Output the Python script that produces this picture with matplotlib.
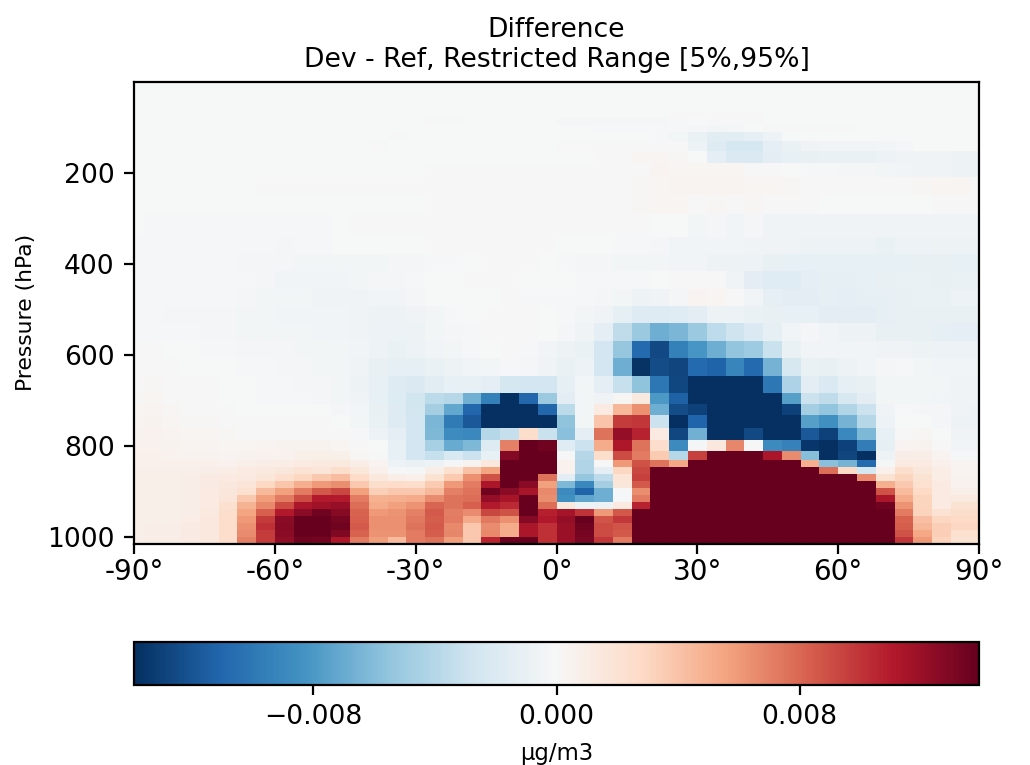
import numpy as np
import matplotlib
matplotlib.use("Agg")
import matplotlib.pyplot as plt

# latitude and pressure cell edges
lat_edges = [-90, -88, -84, -80, -76, -72, -68, -64, -60, -56, -52, -48, -44, -40, -36, -32,
             -28, -24, -20, -16, -12, -8, -4, 0, 4, 8, 12, 16, 20, 24, 28,
             32, 36, 40, 44, 48, 52, 56, 60, 64, 68, 72, 76, 80, 84, 88, 90]
p_edges = [0.01, 5, 14, 26, 40, 54, 66, 78, 95, 109, 130, 152, 177, 209, 248, 290, 340,
           378, 416, 454, 491, 530, 568, 606, 645, 682, 708, 732, 759, 785, 810, 830,
           845.2, 860.5, 875.8, 891, 906.3, 921.6, 936.9, 952.2, 967.5, 982.8, 998, 1013.25]

# zonal mean difference, in 1e-4 ug/m3, one list per pressure level (top to bottom)
row_00 = [-1] * 46
row_01 = [-1] * 46
row_02 = [-1] * 46
row_03 = [-1] * 46
row_04 = [-1] * 46
row_05 = [-1] * 46
row_06 = [-1, -1, -1, -1, -1, -1, -1, -1, -1, -1, -1, -1, -1, -1, -1, -1,
          -1, -1, -1, -1, -1, -1, -1, -1, -1, -1, -1, -1, -1, 1, 1,
          1, 1, 1, -1, -1, -1, -1, -1, -1, -1, -1, -1, -1, -1, -1]
row_07 = [-1, -1, -1, -1, -1, -1, -1, -1, -1, -1, -1, -1, -1, -1, -1, -1,
          1, 1, -1, -1, -1, -1, -1, -3, -3, -3, -3, -3, -3, -2, -1,
          0, 1, 1, -1, -1, -1, -1, -1, -1, -1, -1, -1, -1, -1, -1]
row_08 = [-1, -1, -1, -1, -1, -1, -1, -1, -1, -1, -1, -1, -1, -1, -1, -1,
          -1, -1, -1, -1, -1, -1, -1, -1, -1, -2, -2, -2, -2, -2, -3,
          -4, -3, -1, 1, 1, 1, 1, 1, -1, -1, -1, -1, -1, -1, -1]
row_09 = [-1, -1, -1, -1, -1, -1, -1, -1, -1, -1, -1, -1, -1, -1, 1, -1,
          -1, -1, -1, -1, -1, -1, -1, -1, -1, -1, -1, -1, -2, -4, -9,
          -16, -16, -12, -8, -1, -1, -1, -1, -1, -1, -1, -1, -1, -1, -1]
row_10 = [-1, -1, -1, -1, -1, -1, -1, -1, -1, -1, -1, -1, -1, 1, -1, -1,
          -1, -1, -1, -1, -1, -1, -1, 1, 1, 1, 1, 1, 1, 0, -8,
          -18, -24, -24, -14, -9, -6, -5, -5, -5, -4, -3, -1, -1, -1, -1]
row_11 = [-1, -1, -1, -1, -1, -1, -1, -1, -1, -1, -1, -1, -1, -1, -1, -1,
          -1, -1, -1, -1, -1, -1, -1, -1, -1, 1, 1, 3, 3, 2, -1,
          -14, -20, -20, -15, -11, -10, -9, -9, -9, -8, -6, -6, -6, -7, -7]
row_12 = [-1, -1, -1, -1, -1, -1, -1, -1, -1, -1, -1, -1, -1, -1, -1, -1,
          1, 1, 1, 1, 1, 1, 1, 1, 1, 1, 1, 1, 4, 3, 3,
          3, 3, 1, 0, -1, -2, -2, -3, -3, -4, -5, -6, -6, -7, -7]
row_13 = [-1, -1, -1, -1, -1, -1, -1, 0, 0, 0, 0, 0, 0, 0, 1, 1,
          1, 1, 1, 1, 1, 1, 1, 0, 0, 1, 1, 2, 3, 4, 4,
          4, 4, 3, 3, 2, 1, 0, 0, 0, 0, 0, 2, 3, 3, 0]
row_14 = [-1, -1, -1, -1, -1, -1, -1, -1, -1, -1, -1, -1, -1, -1, -1, -1,
          1, 1, 1, 1, 1, 1, 0, 0, 0, 0, 1, 2, 3, 3, 1,
          2, 0, 2, 0, 0, 0, -1, -1, -1, -1, -1, -1, 0, 0, 0]
row_15 = [-1, -2, -2, -2, -2, -2, -2, -2, -2, -2, -2, -1, 0, 0, 0, 0,
          0, 0, 0, 0, 1, 1, 0, 0, 0, 0, 0, 0, -1, -1, -4,
          -3, -5, -3, -6, -6, -6, -6, -6, -6, -6, -6, -6, -6, -6, -6]
row_16 = [-2, -2, -2, -2, -2, -2, -2, -2, -3, -2, -2, -1, -1, -1, -1, -1,
          0, 0, 0, 0, 1, 0, 0, -1, -1, -1, -2, -2, -3, -5, -5,
          -5, -5, -6, -6, -6, -7, -8, -8, -8, -9, -8, -8, -7, -7, -7]
row_17 = [-2, -2, -2, -2, -2, -2, -3, -3, -3, -4, -4, -4, -4, -4, -3, -3,
          -2, -2, -1, 0, 0, 0, -1, -2, -3, -3, -4, -4, -4, -5, -5,
          -7, -7, -8, -10, -11, -11, -11, -11, -11, -11, -11, -10, -10, -11, -11]
row_18 = [-2, -2, -2, -2, -2, -2, -2, -3, -5, -5, -5, -5, -4, -3, -3, -2,
          -1, -1, 0, 0, 0, -1, -1, -1, -2, -2, -2, -2, -1, 0, 1,
          0, -6, -15, -17, -17, -14, -13, -12, -11, -10, -9, -9, -10, -9, -9]
row_19 = [-2, -2, -2, -2, -2, -2, -3, -4, -4, -4, -6, -6, -6, -5, -5, -3,
          -1, -1, -1, -1, 0, -2, -2, -2, -2, -3, -4, -7, -6, -3, 4,
          3, 0, -5, -12, -15, -15, -13, -14, -13, -12, -10, -9, -9, -8, -8]
row_20 = [-2, -2, -3, -3, -3, -3, -4, -4, -5, -5, -5, -5, -6, -7, -7, -6,
          -4, -2, -1, 0, 0, 0, -1, -2, -4, -6, -13, -18, -18, -17, -15,
          -7, -8, -9, -10, -11, -11, -15, -15, -15, -13, -10, -10, -10, -10, -10]
row_21 = [-2, -2, -2, -2, -3, -3, -4, -4, -4, -4, -5, -5, -6, -8, -8, -7,
          -4, -3, -2, 0, 0, 0, -1, -3, -6, -14, -35, -52, -68, -64, -52,
          -36, -29, -21, -13, -5, -3, -5, -7, -7, -10, -10, -10, -12, -14, -14]
row_22 = [0, 0, -1, -1, -2, -2, -3, -3, -3, -4, -4, -4, -5, -8, -9, -8,
          -5, -4, -2, -1, 0, -2, -5, -7, -9, -25, -54, -108, -125, -95, -82,
          -68, -55, -50, -31, -9, -5, -5, -5, -5, -6, -6, -7, -8, -8, -8]
row_23 = [0, 1, 0, -1, -1, -1, -2, -2, -3, -3, -4, -4, -6, -10, -12, -13,
          -9, -7, -5, -4, -2, -3, -6, -9, -8, -25, -68, -137, -124, -128, -108,
          -112, -92, -108, -66, -23, -9, -10, -7, -5, -3, -2, -4, -5, -5, -5]
row_24 = [1, 2, 0, 0, 0, -1, -1, -2, -2, -3, -3, -4, -7, -11, -18, -20,
          -16, -11, -11, -14, -24, -25, -25, -12, -4, -14, -32, -56, -100, -126, -145,
          -150, -150, -150, -100, -43, -15, -21, -13, -10, -4, -4, -4, -4, -6, -6]
row_25 = [2, 3, 1, 1, 0, -1, -1, -2, -2, -2, -3, -4, -6, -11, -19, -27,
          -37, -40, -67, -95, -145, -110, -52, -15, -4, -6, 2, 14, -80, -113, -150,
          -150, -150, -150, -140, -77, -30, -35, -23, -15, -4, -4, -4, -5, -6, -6]
row_26 = [3, 4, 2, 1, 1, 0, -1, -1, -1, -1, -1, -3, -5, -10, -18, -27,
          -47, -72, -110, -145, -150, -150, -110, -37, -4, 13, 46, 63, -68, -124, -130,
          -150, -150, -150, -150, -130, -47, -55, -42, -30, -6, -2, -3, -3, -6, -7]
row_27 = [4, 5, 3, 2, 2, 1, 0, 0, 0, 0, 0, -1, -4, -9, -18, -26,
          -63, -98, -118, -150, -150, -150, -145, -56, -4, 40, 97, 99, -30, -145, -111,
          -150, -150, -150, -150, -150, -77, -85, -66, -40, -8, -1, -1, -3, -7, -8]
row_28 = [5, 6, 4, 3, 3, 2, 1, 1, 1, 1, 0, 0, -2, -8, -14, -25,
          -62, -87, -90, -40, -33, 24, -31, -58, -14, 76, 122, 107, 12, -126, -67,
          -150, -150, -125, -150, -150, -118, -130, -90, -62, -11, 0, 2, -1, -6, -6]
row_29 = [6, 6, 5, 4, 4, 3, 3, 4, 5, 5, 5, 3, 0, -1, -11, -26,
          -46, -70, -62, -18, 70, 150, 135, -17, -30, 52, 112, 76, 25, -88, -3,
          15, 68, 0, -88, -94, -135, -145, -130, -97, -13, 4, 5, 0, -5, -5]
row_30 = [7, 7, 6, 5, 5, 4, 5, 6, 6, 8, 8, 8, 2, 0, -11, -25,
          -32, -22, -30, -11, 128, 150, 150, 0, -40, 24, 91, 72, 36, -40, 95,
          150, 150, 150, 113, 66, -59, -145, -128, -150, -7, 9, 9, 4, -2, -2]
row_31 = [7, 7, 7, 7, 7, 6, 8, 9, 10, 13, 14, 14, 9, 4, -8, -9,
          -8, -3, 5, 15, 150, 150, 150, 6, -42, 1, 60, 88, 76, 54, 150,
          150, 150, 150, 150, 150, 50, -58, -66, -108, -3, 13, 12, 7, 4, 4]
row_32 = [8, 8, 8, 8, 9, 10, 12, 14, 16, 20, 18, 24, 17, 7, -2, -3,
          9, 22, 41, 55, 150, 150, 150, 6, -42, -14, 30, 93, 150, 150, 150,
          150, 150, 150, 150, 150, 150, 78, 28, -24, 7, 24, 16, 10, 4, 4]
row_33 = [8, 8, 8, 9, 11, 13, 14, 17, 23, 30, 37, 43, 27, 15, 9, 7,
          20, 36, 64, 89, 150, 150, 75, -15, -54, -36, 18, 95, 150, 150, 150,
          150, 150, 150, 150, 150, 150, 150, 150, 66, 20, 31, 20, 10, 5, 5]
row_34 = [8, 8, 8, 9, 11, 15, 18, 29, 39, 50, 60, 65, 38, 24, 27, 26,
          36, 60, 72, 114, 150, 125, 57, -62, -90, -47, 17, 85, 150, 150, 150,
          150, 150, 150, 150, 150, 150, 150, 150, 150, 50, 38, 22, 12, 6, 6]
row_35 = [8, 8, 8, 9, 12, 16, 22, 45, 57, 72, 86, 93, 57, 33, 37, 37,
          45, 70, 76, 135, 125, 115, 67, -88, -112, -68, -2, 65, 150, 150, 150,
          150, 150, 150, 150, 150, 150, 150, 150, 150, 88, 44, 28, 12, 8, 8]
row_36 = [8, 8, 8, 9, 12, 18, 37, 58, 72, 91, 110, 110, 72, 49, 50, 53,
          66, 75, 78, 122, 115, 150, 65, -85, -73, -68, -2, 72, 150, 150, 150,
          150, 150, 150, 150, 150, 150, 150, 150, 150, 113, 53, 31, 13, 14, 14]
row_37 = [8, 8, 8, 9, 13, 22, 48, 67, 91, 113, 118, 121, 78, 52, 57, 62,
          81, 76, 83, 110, 104, 150, 78, 14, -8, -8, 13, 107, 150, 150, 150,
          150, 150, 150, 150, 150, 150, 150, 150, 150, 135, 62, 31, 13, 20, 20]
row_38 = [8, 8, 8, 9, 14, 24, 55, 83, 111, 125, 135, 127, 82, 60, 62, 70,
          85, 71, 66, 93, 88, 150, 108, 116, 100, 60, 86, 150, 150, 150, 150,
          150, 150, 150, 150, 150, 150, 150, 150, 150, 150, 72, 32, 21, 24, 24]
row_39 = [8, 8, 8, 10, 15, 25, 60, 97, 125, 139, 145, 133, 83, 63, 64, 73,
          84, 72, 53, 73, 64, 128, 111, 122, 145, 87, 98, 150, 150, 150, 150,
          150, 150, 150, 150, 150, 150, 150, 150, 150, 150, 82, 42, 30, 28, 28]
row_40 = [8, 9, 9, 11, 15, 26, 63, 101, 126, 145, 145, 135, 85, 63, 63, 75,
          85, 67, 38, 66, 52, 113, 102, 120, 135, 91, 87, 150, 150, 150, 150,
          150, 150, 150, 150, 150, 150, 150, 150, 150, 150, 84, 46, 34, 30, 30]
row_41 = [8, 9, 9, 11, 15, 26, 66, 97, 125, 142, 140, 130, 82, 62, 62, 72,
          84, 68, 38, 67, 52, 113, 101, 120, 133, 91, 85, 150, 150, 150, 150,
          150, 150, 150, 150, 150, 150, 150, 150, 150, 150, 88, 54, 34, 22, 22]
row_42 = [8, 9, 9, 11, 15, 26, 70, 97, 123, 135, 134, 112, 72, 58, 44, 72,
          75, 58, 38, 106, 137, 150, 102, 120, 132, 98, 72, 150, 150, 150, 150,
          150, 150, 150, 150, 150, 150, 150, 150, 150, 150, 98, 60, 32, 20, 20]

xtick_vals = [-90, -60, -30, 0, 30, 60, 90]
xtick_labels = ["-90°", "-60°", "-30°", "0°", "30°", "60°", "90°"]
ytick_vals = [200, 400, 600, 800, 1000]
cbar_ticks = [-0.008, 0.0, 0.008]
vlim = 0.0139

rows = [row_00, row_01, row_02, row_03, row_04, row_05, row_06, row_07, row_08, row_09, row_10,
        row_11, row_12, row_13, row_14, row_15, row_16, row_17, row_18, row_19, row_20, row_21,
        row_22, row_23, row_24, row_25, row_26, row_27, row_28, row_29, row_30, row_31, row_32,
        row_33, row_34, row_35, row_36, row_37, row_38, row_39, row_40, row_41, row_42]
diff = np.array(rows) * 1e-4

plt.rcParams["font.size"] = 9.6

fig = plt.figure(figsize=(5.15, 3.825), dpi=200)
ax = fig.add_axes([134 / 1030, 1 - 543.5 / 765, 845 / 1030, 461.5 / 765])
cax = fig.add_axes([134 / 1030, 1 - 685 / 765, 845 / 1030, 43 / 765])

mesh = ax.pcolormesh(lat_edges, p_edges, diff, cmap="RdBu_r", vmin=-vlim, vmax=vlim)
ax.set_ylim(1013.25, 0.01)
ax.set_xlim(-90, 90)
ax.set_xticks(xtick_vals)
ax.set_xticklabels(xtick_labels)
ax.tick_params(axis="x", labelsize=10, pad=1.8)
ax.set_yticks(ytick_vals)
ax.set_ylabel("Pressure (hPa)", fontsize=7.9)
ax.set_title("Difference\nDev - Ref, Restricted Range [5%,95%]", fontsize=9.6, pad=5.5)

cb = fig.colorbar(mesh, cax=cax, orientation="horizontal")
cb.set_ticks(cbar_ticks)
cb.set_ticklabels(["\u22120.008", "0.000", "0.008"])
cb.set_label("µg/m3", fontsize=8.2)

fig.savefig("out.png", dpi=200)
